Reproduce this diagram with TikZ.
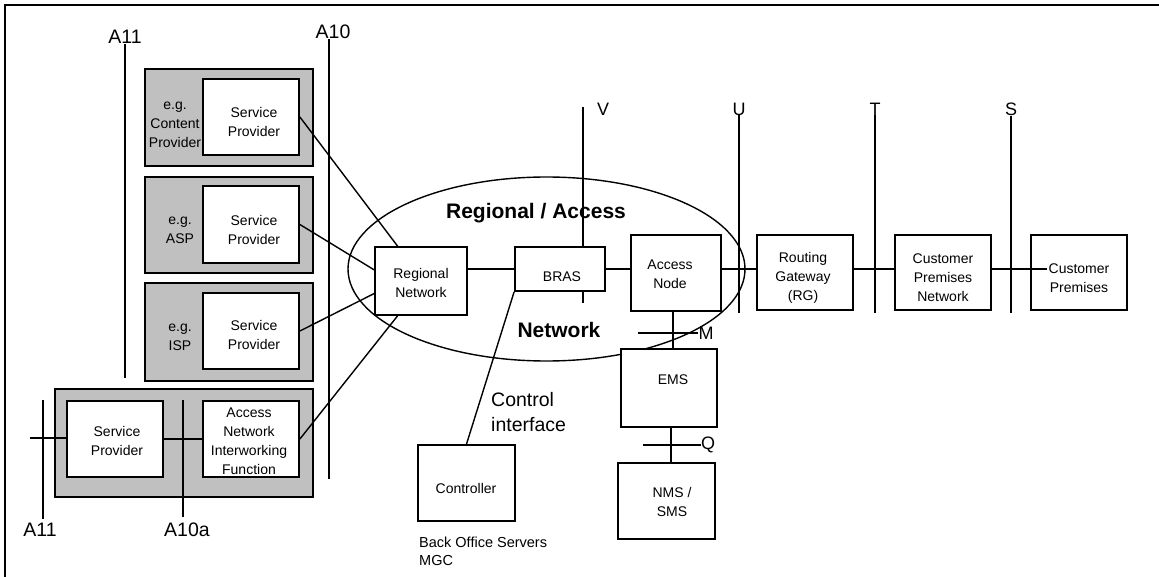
\documentclass[tikz,border=0pt]{standalone}
\usepackage{fontspec}
\setmainfont{Liberation Sans}
\usetikzlibrary{calc}
\definecolor{panelgrey}{RGB}{192,192,192}
\begin{document}
\begin{tikzpicture}[x=1pt,y=-1pt,
  frame/.style={line width=2pt},
  shadebox/.style={draw, line width=1.8pt, fill=panelgrey, inner sep=0pt},
  unit/.style={draw, line width=1.8pt, fill=white, inner sep=0pt},
  link/.style={line width=1.4pt},
  refline/.style={line width=1.8pt},
  lbl/.style={font=\fontsize{14}{19}\selectfont, align=center, inner sep=0pt},
  ifname/.style={font=\fontsize{19.5}{23}\selectfont, inner sep=0pt},
  ptname/.style={font=\fontsize{18}{22}\selectfont, inner sep=0pt},
  region/.style={font=\fontsize{21}{25}\selectfont\bfseries, inner sep=0pt}]

\useasboundingbox (0,0) rectangle (1159,577);

% outer frame
\draw[frame] (5,577) -- (5,5) -- (1159,5);

% provider panels
\node[shadebox, minimum width=168pt, minimum height=97pt] (g1) at (229,117.5) {};
\node[shadebox, minimum width=168pt, minimum height=96pt] (g2) at (229,225) {};
\node[shadebox, minimum width=168pt, minimum height=98pt] (g3) at (229,332) {};
\node[shadebox, minimum width=258pt, minimum height=108pt] (g4) at (184,443) {};

\node[unit, minimum width=96pt, minimum height=76pt] (sp1) at (251,117) {};
\node[unit, minimum width=96pt, minimum height=77pt] (sp2) at (251,224.5) {};
\node[unit, minimum width=96pt, minimum height=76pt] (sp3) at (251,331) {};
\node[unit, minimum width=96pt, minimum height=76pt] (sp4) at (115,439) {};
\node[unit, minimum width=96pt, minimum height=76pt] (anif) at (251,439) {};

\node[lbl] (eg1) at (175,125) {e.g.\\Content\\Provider};
\node[lbl] (eg2) at (180,230) {e.g.\\ASP};
\node[lbl] (eg3) at (180,337) {e.g.\\ISP};
\node[lbl] (sp1t) at (254,122) {Service\\Provider};
\node[lbl] (sp2t) at (254,230) {Service\\Provider};
\node[lbl] (sp3t) at (254,335) {Service\\Provider};
\node[lbl] (sp4t) at (117,441) {Service\\Provider};
\node[lbl] (anift) at (249,441) {Access\\Network\\Interworking\\Function};

% regional / access network
\node[unit, minimum width=92pt, minimum height=68pt] (rn) at (421,281) {};
\node[unit, minimum width=90pt, minimum height=44pt] (bras) at (560,269) {};
\node[unit, minimum width=90pt, minimum height=76pt] (an) at (676,273) {};
\node[lbl] (rnt) at (421,283) {Regional\\Network};
\node[lbl] (brast) at (562,277) {BRAS};
\node[lbl] (ant) at (670,274) {Access\\Node};

\draw[link] (546.5,269) ellipse [x radius=198.5, y radius=92];
\node[region] (rat) at (536,213) {Regional / Access};
\node[region] (rnw) at (559,330) {Network};

% customer side
\node[unit, minimum width=96pt, minimum height=75pt] (rg) at (805,272.5) {};
\node[unit, minimum width=96pt, minimum height=75pt] (cpn) at (943,272.5) {};
\node[unit, minimum width=96pt, minimum height=75pt] (cp) at (1079,272.5) {};
\node[lbl] (rgt) at (803,278) {Routing\\Gateway\\(RG)};
\node[lbl] (cpnt) at (943,278) {Customer\\Premises\\Network};
\node[lbl] (cpt) at (1079,278) {Customer\\Premises};

% management and control
\node[unit, minimum width=96pt, minimum height=78pt] (ems) at (669,388) {};
\node[unit, minimum width=97pt, minimum height=76pt] (nms) at (666.5,501) {};
\node[unit, minimum width=97pt, minimum height=76pt] (ctrl) at (466.5,483) {};
\node[lbl] (emst) at (673,380) {EMS};
\node[lbl] (nmst) at (672,502) {NMS /\\SMS};
\node[lbl] (ctrlt) at (466,488) {Controller};
\node[font=\fontsize{19.5}{25}\selectfont, align=left, inner sep=0pt, anchor=west] (cif) at (491,412.5) {Control\\interface};
\node[font=\fontsize{14.5}{18}\selectfont, align=left, inner sep=0pt, anchor=west] (bos) at (419,551) {Back Office Servers\\MGC};

% links between the units
\draw[link] (sp1.east) -- ($(rn.north west)!0.25!(rn.north east)$);
\draw[link] (sp2.east) -- ($(rn.north west)!0.34!(rn.south west)$);
\draw[link] (sp3.east) -- ($(rn.north west)!0.68!(rn.south west)$);
\draw[link] (anif.east) -- ($(rn.south west)!0.25!(rn.south east)$);
\draw[link] (sp4.east) -- (anif.west);
\coordinate (a11in) at (30,438);
\draw[link] (a11in) -- (sp4.west |- a11in);
\draw[link] (rn.east |- bras.west) -- (bras.west);
\draw[link] (bras.east) -- (bras.east -| an.west);
\draw[link] (an.east |- bras.east) -- (rg.west |- bras.east);
\draw[link] (rg.east |- bras.east) -- (cpn.west |- bras.east);
\coordinate (cpend) at (1047,269);
\draw[link] (cpn.east |- cpend) -- (cpend);
\draw[link] (bras.south west) -- (ctrl.north);
\coordinate (mx) at (673,0);
\draw[link] (an.south -| mx) -- (ems.north -| mx);
\coordinate (qx) at (671,0);
\draw[link] (ems.south -| qx) -- (nms.north -| qx);

% reference points
\node[ifname] (a11u) at (125,37) {A11};
\coordinate (a11ub) at (125,378);
\draw[refline] (a11u.south) -- (a11ub);
\node[ifname] (a10) at (333,32) {A10};
\coordinate (a10t) at (329,39);
\coordinate (a10b) at (329,479);
\draw[refline] (a10t) -- (a10b);
\node[ifname] (a11l) at (40,530) {A11};
\coordinate (a11lt) at (43,400);
\coordinate (a11lb) at (43,519);
\draw[refline] (a11lt) -- (a11lb);
\node[ifname] (a10a) at (187,530) {A10a};
\coordinate (a10at) at (183,400);
\coordinate (a10ab) at (183,517);
\draw[refline] (a10at) -- (a10ab);

\node[ptname] (v) at (603,109) {V};
\coordinate (vtop) at (583,107);
\coordinate (vend) at (583,303);
\draw[refline] (vtop) -- (vtop |- bras.north);
\draw[refline] (vtop |- bras.south) -- (vend);
\node[ptname] (u) at (739,109) {U};
\coordinate (ubot) at (739,313);
\draw[refline] (u.south) -- (ubot);
\node[ptname] (t) at (875,109) {T};
\coordinate (tbot) at (875,313);
\draw[refline] (t.south) -- (tbot);
\node[ptname] (s) at (1011,109) {S};
\coordinate (sbot) at (1011,313);
\draw[refline] (s.south) -- (sbot);

\node[ptname] (m) at (706,333) {M};
\coordinate (mleft) at (638,333);
\draw[link] (mleft) -- (m.west);
\node[ptname] (q) at (708,445) {Q};
\coordinate (qleft) at (643,445);
\draw[link] (qleft) -- (q.west);
\end{tikzpicture}
\end{document}
